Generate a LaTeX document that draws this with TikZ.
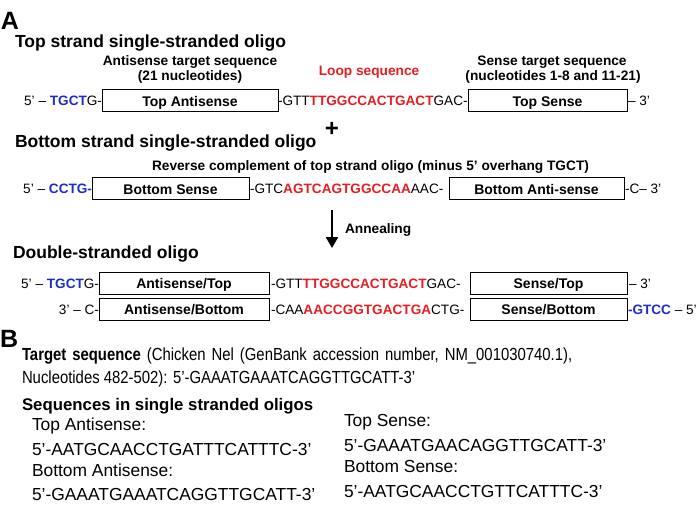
\documentclass[tikz,border=0pt]{standalone}
\usepackage{fontspec}
\setmainfont{Liberation Sans}
\newfontfamily\narrowsans[FakeStretch=0.85]{Liberation Sans}
\usetikzlibrary{arrows.meta}
\definecolor{sblue}{RGB}{30,45,200}
\definecolor{sred}{RGB}{230,30,35}
\newcommand\fsz[1]{\fontsize{#1}{#1}\selectfont}
\newcommand\seqblue[1]{\textcolor{sblue}{\bfseries #1}}
\newcommand\seqred[1]{\textcolor{sred}{\bfseries #1}}
\begin{document}
\begin{tikzpicture}[x=1pt,y=-1pt,
  every node/.style={inner sep=0pt, outer sep=0pt},
  seqbox/.style={draw, line width=0.9pt, minimum height=22pt, text height=11pt, text depth=0pt, font=\fsz{14}\bfseries},
  rowl/.style={font=\fsz{13.6}, anchor=base east},
  rowr/.style={font=\fsz{13.6}, anchor=base west},
  lbl/.style={font=\fsz{13.7}\bfseries, anchor=base},
  ttl/.style={font=\fsz{17.5}\bfseries, anchor=base west},
  btxt/.style={font=\fsz{17.4}, anchor=base west},
  bnarrow/.style={font=\narrowsans\fsz{17.5}, anchor=base west},
]
\useasboundingbox (0,0) rectangle (698,511);

% ---------- A ----------
\node[font=\fsz{25}\bfseries, anchor=base west] (labA) at (1,30) {A};
\node[ttl] (t1) at (15,48) {Top strand single-stranded oligo};
\node[lbl] (h1a) at (190,65) {Antisense target sequence};
\node[lbl] (h1b) at (190,81) {(21 nucleotides)};
\node[lbl, text=sred] (loop) at (369,75) {Loop sequence};
\node[lbl] (h2a) at (552,65) {Sense target sequence};
\node[lbl] (h2b) at (553,81) {(nucleotides 1-8 and 11-21)};

% row 1
\node[seqbox, minimum width=176pt] (tas) at (190,100.5) {Top Antisense};
\node[seqbox, minimum width=159pt] (ts) at (547.5,100.5) {Top Sense};
\node[rowl] (r1l) at (102,105.5) {5’ – \seqblue{TGCT}G-};
\node[rowr] (r1m) at (278,105.5) {-GTT\seqred{TTGGCCACTGACT}GAC-};
\node[rowr] (r1r) at (628,105.5) {– 3’};

% row 2
\node[ttl] (t2) at (15,147) {Bottom strand single-stranded oligo};
\node[font=\fsz{24}\bfseries] (plus) at (332,129) {+};
\node[lbl, anchor=base west] (h3) at (152,170) {Reverse complement of top strand oligo (minus 5’ overhang TGCT)};
\node[seqbox, minimum width=157pt] (bs) at (170.5,188.5) {Bottom Sense};
\node[seqbox, minimum width=175pt] (bas) at (536.5,188.5) {Bottom Anti-sense};
\node[rowl] (r2l) at (92,193.5) {5’ – \seqblue{CCTG-}};
\node[rowr] (r2m) at (250,193.5) {-GTC\seqred{AGTCAGTGGCCAA}AAC-};
\node[rowr] (r2r) at (625,193.5) {-C– 3’};

% annealing arrow
\coordinate (arT) at (332,210);
\coordinate (arB) at (332,248);
\draw[line width=2.4pt, -{Triangle[width=12pt,length=11pt]}] (arT) -- (arB);
\node[lbl, anchor=base west] (ann) at (345,233) {Annealing};

% row 3
\node[ttl] (t3) at (13,258) {Double-stranded oligo};
\node[seqbox, minimum width=170pt] (ast) at (184,283) {Antisense/Top};
\node[seqbox, minimum width=157pt] (st) at (548.5,283) {Sense/Top};
\node[rowl] (r3l) at (99,288) {5’ – \seqblue{TGCT}G-};
\node[rowr] (r3m) at (271,288) {-GTT\seqred{TTGGCCACTGACT}GAC-};
\node[rowr] (r3r) at (629,288) {– 3’};

\node[seqbox, minimum width=170pt] (asb) at (184,309) {Antisense/Bottom};
\node[seqbox, minimum width=157pt] (sb) at (548.5,309) {Sense/Bottom};
\node[rowl] (r4l) at (99,314) {3’ – C-};
\node[rowr] (r4m) at (271,314) {-CAA\seqred{AACCGGTGACTGA}CTG-};
\node[rowr] (r4r) at (628,314) {\seqblue{-GTCC} – 5’};

% ---------- B ----------
\node[font=\fsz{25}\bfseries, anchor=base west] (labB) at (0,347) {B};
\node[bnarrow] (b1) at (22,360) {\spaceskip=6pt plus 1pt\textbf{Target sequence} (Chicken Nel (GenBank accession number, NM\_001030740.1),};
\node[bnarrow] (b2) at (22,383) {Nucleotides 482-502): 5’-GAAATGAAATCAGGTTGCATT-3’};
\node[btxt, font=\fsz{16.8}\bfseries] (b3) at (22,410) {Sequences in single stranded oligos};
\node[btxt] (b4) at (32,430) {Top Antisense:};
\node[btxt] (b5) at (32,455) {5’-AATGCAACCTGATTTCATTTC-3’};
\node[btxt] (b6) at (32,476) {Bottom Antisense:};
\node[btxt] (b7) at (32,500) {5’-GAAATGAAATCAGGTTGCATT-3’};
\node[btxt] (b8) at (344,426) {Top Sense:};
\node[btxt] (b9) at (344,451) {5’-GAAATGAACAGGTTGCATT-3’};
\node[btxt] (b10) at (344,472) {Bottom Sense:};
\node[btxt] (b11) at (344,497) {5’-AATGCAACCTGTTCATTTC-3’};
\end{tikzpicture}
\end{document}
